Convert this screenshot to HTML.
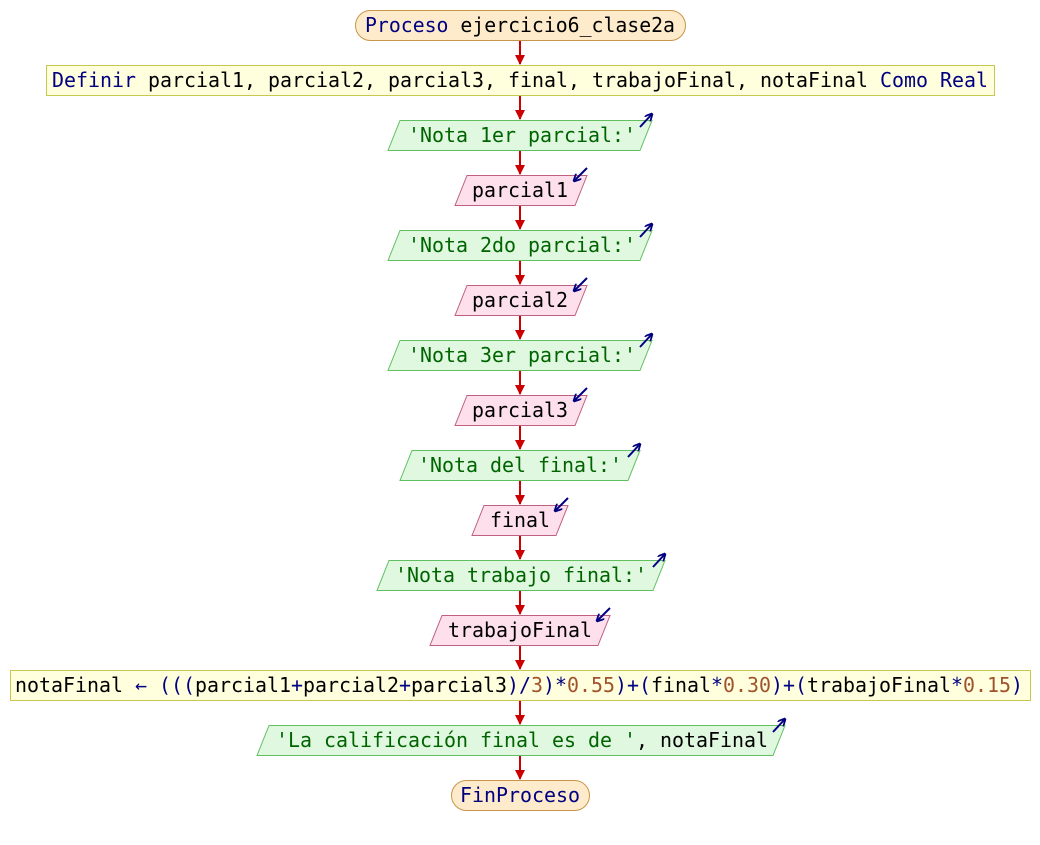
<!DOCTYPE html>
<html><head><meta charset="utf-8"><style>
html,body{margin:0;padding:0;background:#fff;}
svg{display:block;}
text{font-family:"DejaVu Sans Mono","Liberation Mono",monospace;font-size:20px;}
.k{fill:#000080}.s{fill:#006400}.v{fill:#000}.n{fill:#a0522d}
</style></head><body>
<svg width="1040" height="845" viewBox="0 0 1040 845" xmlns="http://www.w3.org/2000/svg">
<defs>
<marker id="ah" markerWidth="10" markerHeight="10" refX="9" refY="5" orient="auto" markerUnits="userSpaceOnUse">
<path d="M0,0 L10,5 L0,10 z" fill="#cc0000"/></marker>
<marker id="bh" markerWidth="8" markerHeight="8" refX="7" refY="4" orient="auto" markerUnits="userSpaceOnUse">
<path d="M0,0 L8,4 L0,8" fill="none" stroke="#000080" stroke-width="1.8"/></marker>
</defs>
<g stroke="#cc0000" stroke-width="2" marker-end="url(#ah)">
<line x1="520" y1="40" x2="520" y2="64"/>
<line x1="520" y1="95" x2="520" y2="119"/>
<line x1="520" y1="150" x2="520" y2="174"/>
<line x1="520" y1="205" x2="520" y2="229"/>
<line x1="520" y1="260" x2="520" y2="284"/>
<line x1="520" y1="315" x2="520" y2="339"/>
<line x1="520" y1="370" x2="520" y2="394"/>
<line x1="520" y1="425" x2="520" y2="449"/>
<line x1="520" y1="480" x2="520" y2="504"/>
<line x1="520" y1="535" x2="520" y2="559"/>
<line x1="520" y1="590" x2="520" y2="614"/>
<line x1="520" y1="645" x2="520" y2="669"/>
<line x1="520" y1="700" x2="520" y2="724"/>
<line x1="520" y1="755" x2="520" y2="779"/>
</g>
<rect x="355.5" y="10.5" width="330" height="30" rx="15" fill="#fdebcc" stroke="#c8964a"/>
<text x="520" y="32" text-anchor="middle" textLength="310" lengthAdjust="spacingAndGlyphs" class="k">Proceso <tspan class="v">ejercicio6_clase2a</tspan></text>
<rect x="46.5" y="65.5" width="948" height="30" fill="#ffffdd" stroke="#c8c850"/>
<text x="520" y="87" text-anchor="middle" textLength="936" lengthAdjust="spacingAndGlyphs" class="k">Definir <tspan class="v">parcial1, parcial2, parcial3, final, trabajoFinal, notaFinal </tspan>Como Real</text>
<g fill="#e0f8e0" stroke="#60c060">
<polygon points="400,120.5 652,120.5 640,150.5 388,150.5"/>
<polygon points="400,230.5 652,230.5 640,260.5 388,260.5"/>
<polygon points="400,340.5 652,340.5 640,370.5 388,370.5"/>
<polygon points="412,450.5 640,450.5 628,480.5 400,480.5"/>
<polygon points="389,560.5 665,560.5 653,590.5 377,590.5"/>
<polygon points="269,725.5 785,725.5 773,755.5 257,755.5"/>
</g>
<g fill="#fde0ec" stroke="#c06080">
<polygon points="467,175.5 587,175.5 575,205.5 455,205.5"/>
<polygon points="467,285.5 587,285.5 575,315.5 455,315.5"/>
<polygon points="467,395.5 587,395.5 575,425.5 455,425.5"/>
<polygon points="484,505.5 568,505.5 556,535.5 472,535.5"/>
<polygon points="442,615.5 610,615.5 598,645.5 430,645.5"/>
</g>
<g stroke="#000080" stroke-width="2" marker-end="url(#bh)">
<line x1="640" y1="127" x2="652" y2="114"/>
<line x1="640" y1="237" x2="652" y2="224"/>
<line x1="640" y1="347" x2="652" y2="334"/>
<line x1="628" y1="457" x2="640" y2="444"/>
<line x1="653" y1="567" x2="665" y2="554"/>
<line x1="773" y1="732" x2="785" y2="719"/>
<line x1="587" y1="168" x2="574" y2="181"/>
<line x1="587" y1="278" x2="574" y2="291"/>
<line x1="587" y1="388" x2="574" y2="401"/>
<line x1="568" y1="498" x2="555" y2="511"/>
<line x1="610" y1="608" x2="597" y2="621"/>
</g>
<text x="522" y="142" text-anchor="middle" textLength="228" lengthAdjust="spacingAndGlyphs" class="s">'Nota 1er parcial:'</text>
<text x="520" y="197" text-anchor="middle" textLength="96" lengthAdjust="spacingAndGlyphs" class="v">parcial1</text>
<text x="522" y="252" text-anchor="middle" textLength="228" lengthAdjust="spacingAndGlyphs" class="s">'Nota 2do parcial:'</text>
<text x="520" y="307" text-anchor="middle" textLength="96" lengthAdjust="spacingAndGlyphs" class="v">parcial2</text>
<text x="522" y="362" text-anchor="middle" textLength="228" lengthAdjust="spacingAndGlyphs" class="s">'Nota 3er parcial:'</text>
<text x="520" y="417" text-anchor="middle" textLength="96" lengthAdjust="spacingAndGlyphs" class="v">parcial3</text>
<text x="520" y="472" text-anchor="middle" textLength="204" lengthAdjust="spacingAndGlyphs" class="s">'Nota del final:'</text>
<text x="520" y="527" text-anchor="middle" textLength="60" lengthAdjust="spacingAndGlyphs" class="v">final</text>
<text x="521" y="582" text-anchor="middle" textLength="252" lengthAdjust="spacingAndGlyphs" class="s">'Nota trabajo final:'</text>
<text x="520" y="637" text-anchor="middle" textLength="144" lengthAdjust="spacingAndGlyphs" class="v">trabajoFinal</text>
<rect x="10.5" y="670.5" width="1020" height="30" fill="#ffffdd" stroke="#c8c850"/>
<text x="519" y="692" text-anchor="middle" textLength="1008" lengthAdjust="spacingAndGlyphs" class="v">notaFinal <tspan class="k">← (((</tspan>parcial1<tspan class="k">+</tspan>parcial2<tspan class="k">+</tspan>parcial3<tspan class="k">)/</tspan><tspan class="n">3</tspan><tspan class="k">)*</tspan><tspan class="n">0.55</tspan><tspan class="k">)+(</tspan>final<tspan class="k">*</tspan><tspan class="n">0.30</tspan><tspan class="k">)+(</tspan>trabajoFinal<tspan class="k">*</tspan><tspan class="n">0.15</tspan><tspan class="k">)</tspan></text>
<text x="522" y="747" text-anchor="middle" textLength="492" lengthAdjust="spacingAndGlyphs" class="s">'La calificación final es de '<tspan class="v">, notaFinal</tspan></text>
<rect x="451.5" y="780.5" width="138" height="30" rx="15" fill="#fdebcc" stroke="#c8964a"/>
<text x="520" y="802" text-anchor="middle" textLength="120" lengthAdjust="spacingAndGlyphs" class="k">FinProceso</text>
</svg>
</body></html>
